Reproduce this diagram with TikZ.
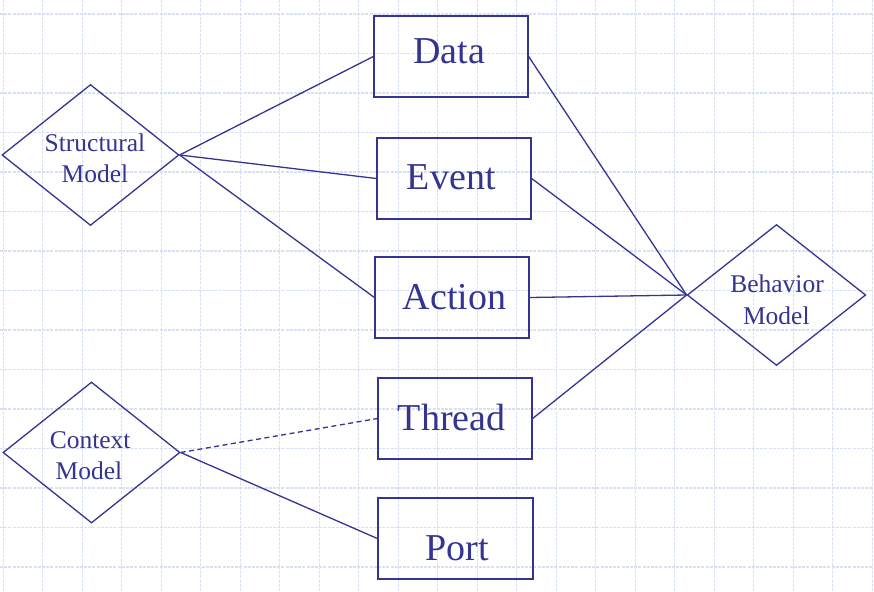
\documentclass[tikz,border=0pt]{standalone}
\usepackage{fontspec}
\setmainfont{Liberation Serif}
\usetikzlibrary{shapes.geometric}
\definecolor{ink}{RGB}{52,52,145}
\definecolor{gridc}{RGB}{216,224,245}
\tikzset{
  gridline/.style={draw=gridc, line width=1.2pt, dash pattern=on 3pt off 1.2pt},
  entity/.style={draw=ink, line width=1.3pt, fill=none, rectangle, inner sep=0pt, minimum width=154pt, minimum height=81pt},
  relation/.style={draw=ink, line width=1.3pt, diamond, inner sep=0pt, minimum width=177pt, minimum height=141pt},
  bigtxt/.style={text=ink, font=\fontsize{38}{40}\selectfont, anchor=base, inner sep=0pt},
  smalltxt/.style={text=ink, font=\fontsize{25.5}{28}\selectfont, anchor=base, inner sep=0pt},
  conn/.style={draw=ink, line width=1.3pt},
  dconn/.style={draw=ink, line width=1.3pt, dash pattern=on 5pt off 3.5pt}
}
\begin{document}
\begin{tikzpicture}[x=1pt,y=-1pt]
\useasboundingbox (0,0) rectangle (874,591);
\fill[white] (0,0) rectangle (874,591);
% grid
\foreach \k in {0,...,22} { \draw[gridline] ({3.3+39.5*\k},0) -- ({3.3+39.5*\k},591); }
\foreach \k in {0,...,14} { \draw[gridline] (0,{14+39.5*\k}) -- (874,{14+39.5*\k}); }
% boxes
\node[entity] (data)   at (451,56.5)  {};
\node[entity] (event)  at (454,178.5) {};
\node[entity] (action) at (452,297.5) {};
\node[entity] (thread) at (455,418.5) {};
\node[entity, minimum width=155pt] (port) at (455.5,538.5) {};
\node[bigtxt] (datat)   at (449,63.3)   {Data};
\node[bigtxt] (eventt)  at (451.3,189)  {Event};
\node[bigtxt] (actiont) at (454.5,309.3) {Action};
\node[bigtxt] (threadt) at (451.7,430)  {Thread};
\node[bigtxt] (portt)   at (457,560)    {Port};
% diamonds
\node[relation, minimum width=177pt] (struct) at (90.5,155) {};
\node[relation] (context) at (91.5,452.5) {};
\node[relation, minimum width=178.5pt] (behav) at (776.5,295) {};
\node[smalltxt] (st1) at (95,151) {Structural};
\node[smalltxt] (st2) at (95,182) {Model};
\node[smalltxt] (bh1) at (777,292.7) {Behavior};
\node[smalltxt] (bh2) at (776.3,324) {Model};
\node[smalltxt] (cx1) at (90.2,448.3) {Context};
\node[smalltxt] (cx2) at (89,479.3) {Model};
% connectors
\draw[conn] (struct.east) -- (data.west);
\draw[conn] (struct.east) -- (event.west);
\draw[conn] (struct.east) -- (action.west);
\draw[conn] (behav.west) -- (data.east);
\draw[conn] (behav.west) -- (event.east);
\draw[conn] (behav.west) -- (action.east);
\draw[conn] (behav.west) -- (thread.east);
\draw[dconn] (context.east) -- (thread.west);
\draw[conn] (context.east) -- (port.west);
\end{tikzpicture}
\end{document}
